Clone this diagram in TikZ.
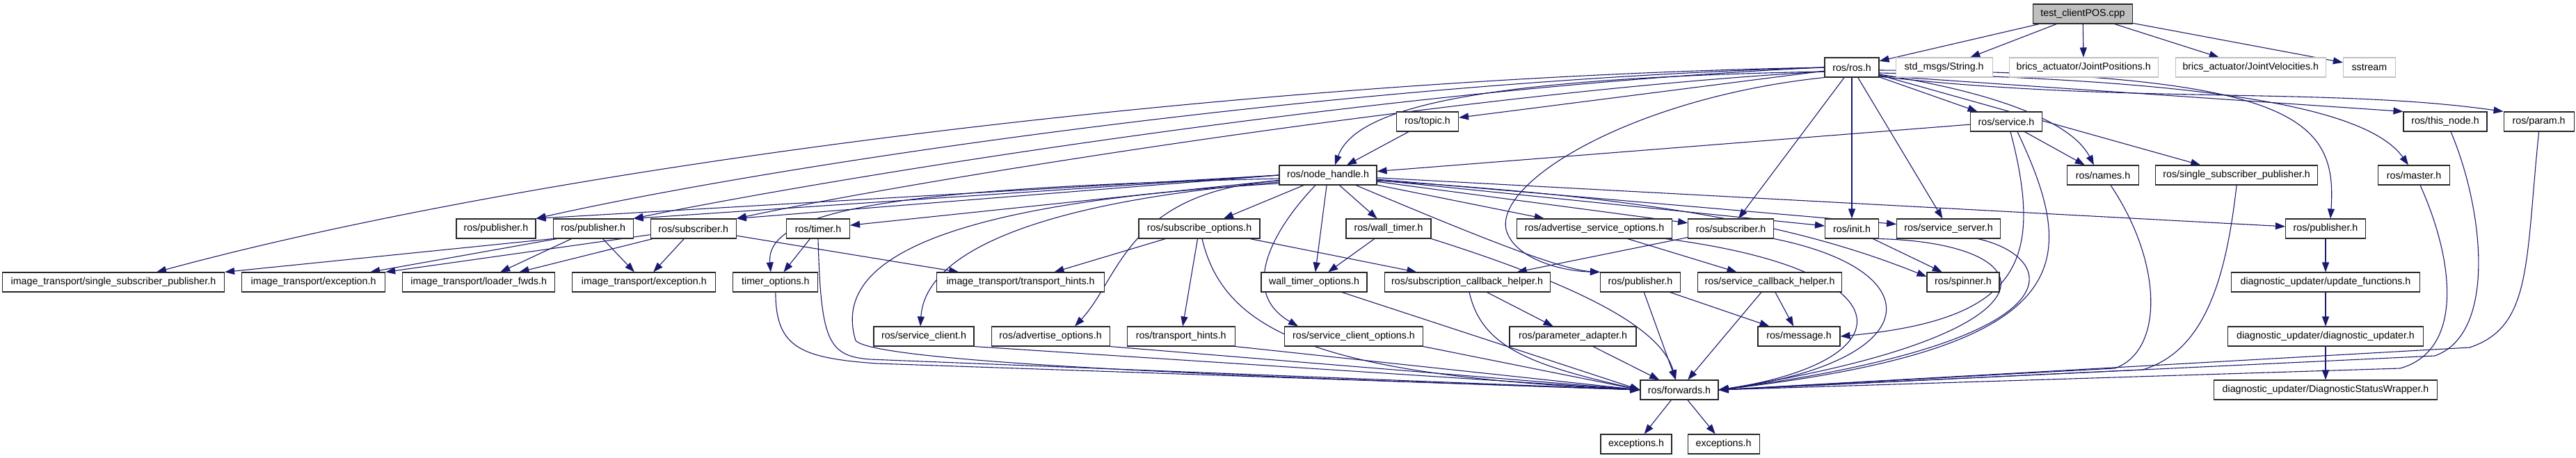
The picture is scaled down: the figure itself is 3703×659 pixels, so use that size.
\documentclass[tikz,border=0pt]{standalone}
\usepackage{fontspec}
\setmainfont{Liberation Sans}
\usepackage{tikz}
\usetikzlibrary{positioning}
\usetikzlibrary{arrows.meta}
\usetikzlibrary{backgrounds}

\definecolor{edgeblue}{HTML}{191970}
\definecolor{boxgray}{HTML}{BFBFBF}

\begin{document}
\begin{tikzpicture}[
    x=1bp, y=-1bp,
    header/.style={rectangle, draw=black!85, fill=white, line width=1.1bp, minimum height=28bp, inner xsep=8bp, inner ysep=0pt, font=\fontsize{14.3}{16}\selectfont},
    extheader/.style={header, draw=boxgray},
    srcfile/.style={header, fill=boxgray},
    incl/.style={draw=edgeblue, line width=1.1bp, -{Triangle[length=14bp,width=10bp]}},
]
    \useasboundingbox (0,0) rectangle (3703,659);

    \node[srcfile, minimum width=143bp] (test) at (2994,20) {test\_clientPOS.cpp};

    \node[header, minimum width=78bp] (ros) at (2662,97) {ros/ros.h};
    \node[extheader, minimum width=139bp] (str) [right=23bp of ros] {std\_msgs/String.h};
    \node[extheader, minimum width=214bp] (jpos) [right=23bp of str] {brics\_actuator/JointPositions.h};
    \node[extheader, minimum width=216bp] (jvel) [right=24bp of jpos] {brics\_actuator/JointVelocities.h};
    \node[extheader, minimum width=75bp] (sst) [right=24bp of jvel] {sstream};

    \node[header, minimum width=89bp] (topic) at (2052,175) {ros/topic.h};
    \node[header, minimum width=103bp] (srv) at (2884,175) {ros/service.h};
    \node[header, minimum width=120bp] (thisnode) at (3515,175) {ros/this\_node.h};
    \node[header, minimum width=101bp] (param) [right=23bp of thisnode] {ros/param.h};

    \node[header, minimum width=140bp] (nh) at (1909,252) {ros/node\_handle.h};
    \node[header, minimum width=103bp] (names) at (3023,252) {ros/names.h};
    \node[header, minimum width=233bp] (ssp) [right=23bp of names] {ros/single\_subscriber\_publisher.h};
    \node[header, minimum width=103bp] (master) at (3470,252) {ros/master.h};

    \node[header, minimum width=114bp] (pubA) at (713,329) {ros/publisher.h};
    \node[header, minimum width=115bp] (pubB) [right=24bp of pubA] {ros/publisher.h};
    \node[header, minimum width=123bp] (subA) [right=24bp of pubB] {ros/subscriber.h};
    \node[header, minimum width=91bp] (timer) at (1176,329) {ros/timer.h};
    \node[header, minimum width=174bp] (subopt) at (1724,329) {ros/subscribe\_options.h};
    \node[header, minimum width=122bp] (wtimer) at (1996,329) {ros/wall\_timer.h};
    \node[header, minimum width=223bp] (advsrv) at (2292,329) {ros/advertise\_service\_options.h};
    \node[header, minimum width=123bp] (subB) [right=22bp of advsrv] {ros/subscriber.h};
    \node[header, minimum width=77bp] (init) at (2662,329) {ros/init.h};
    \node[header, minimum width=149bp] (srvsrv) [right=25bp of init] {ros/service\_server.h};
    \node[header, minimum width=115bp] (pubC) at (3343,329) {ros/publisher.h};

    \node[header, minimum width=319bp] (itssp) at (163,406) {image\_transport/single\_subscriber\_publisher.h};
    \node[header, minimum width=206bp] (itexcA) [right=24bp of itssp] {image\_transport/exception.h};
    \node[header, minimum width=219bp] (itload) [right=24bp of itexcA] {image\_transport/loader\_fwds.h};
    \node[header, minimum width=206bp] (itexcB) [right=24bp of itload] {image\_transport/exception.h};
    \node[header, minimum width=122bp] (topt) [right=24bp of itexcB] {timer\_options.h};
    \node[header, minimum width=241bp] (ithint) at (1467,406) {image\_transport/transport\_hints.h};
    \node[header, minimum width=152bp] (wtopt) at (1889,406) {wall\_timer\_options.h};
    \node[header, minimum width=238bp] (subcb) [right=24bp of wtopt] {ros/subscription\_callback\_helper.h};
    \node[header, minimum width=115bp] (pubD) at (2358,406) {ros/publisher.h};
    \node[header, minimum width=207bp] (srvcb) [right=24bp of pubD] {ros/service\_callback\_helper.h};
    \node[header, minimum width=104bp] (spin) at (2822,406) {ros/spinner.h};
    \node[header, minimum width=271bp] (updf) at (3343,406) {diagnostic\_updater/update\_functions.h};

    \node[header, minimum width=144bp] (srvcl) at (1328,484) {ros/service\_client.h};
    \node[header, minimum width=170bp] (advopt) [right=24bp of srvcl] {ros/advertise\_options.h};
    \node[header, minimum width=155bp] (thint) [right=24bp of advopt] {ros/transport\_hints.h};
    \node[header, minimum width=199bp] (srvclopt) at (1946,484) {ros/service\_client\_options.h};
    \node[header, minimum width=182bp] (padapt) at (2261,484) {ros/parameter\_adapter.h};
    \node[header, minimum width=118bp] (msg) at (2586,484) {ros/message.h};
    \node[header, minimum width=281bp] (diagu) at (3343,484) {diagnostic\_updater/diagnostic\_updater.h};

    \node[header, minimum width=112bp] (fwd) at (2414,561) {ros/forwards.h};
    \node[header, minimum width=321bp] (dsw) at (3343,561) {diagnostic\_updater/DiagnosticStatusWrapper.h};

    \node[header, minimum width=102bp] (excA) at (2352,639) {exceptions.h};
    \node[header, minimum width=103bp] (excB) [right=22bp of excA] {exceptions.h};

    \begin{pgfonlayer}{background}
    \draw[incl] (test) -- (ros);
    \draw[incl] (test) -- (str);
    \draw[incl] (test) -- (jpos);
    \draw[incl] (test) -- (jvel);
    \draw[incl] (test) -- (sst);

    \draw[incl] (ros) -- (topic);
    \draw[incl] ([yshift=-6bp]ros.west) .. controls (2150,112) and (1950,150) .. ([xshift=10bp]nh.north);
    \draw[incl] (ros) -- (srv);
    \draw[incl] ([yshift=-10bp]ros.east) .. controls (2850,130) and (2975,170) .. ([xshift=-13bp]names.north);
    \draw[incl] (ros) -- (init);
    \draw[incl] (ros) -- (srvsrv);
    \draw[incl] (ros) -- (subB);
    \draw[incl] ([yshift=-12bp]ros.east) -- (thisnode.north west);
    \draw[incl] ([yshift=-13bp]ros.east) .. controls (3050,150) and (3350,125) .. (param.north west);
    \draw[incl] ([yshift=-8bp]ros.east) .. controls (3150,115) and (3400,150) .. ([xshift=-8bp]master.north);
    \draw[incl] ([yshift=-4bp]ros.east) .. controls (3300,105) and (3360,170) .. ([xshift=7bp]pubC.north);
    \draw[incl] (ros) -- (ssp);
    \draw[incl] (ros.south west) .. controls (2350,140) and (2150,260) .. (2165,330) .. controls (2175,370) and (2240,390) .. (pubD.north west);
    \draw[incl] (ros.west) .. controls (1800,112) and (800,235) .. ([xshift=62bp]itssp.north);
    \draw[incl] (ros.west) .. controls (1900,118) and (1100,240) .. (pubA.north east);
    \draw[incl] (ros.west) .. controls (2000,125) and (1200,255) .. (pubB.north east);
    \draw[incl] ([yshift=-6bp]ros.west) .. controls (2100,132) and (1300,262) .. (subA.north east);

    \draw[incl] (topic) -- (nh);
    \draw[incl] (srv) -- (nh);
    \draw[incl] (srv) -- (names);
    \draw[incl] ([xshift=6bp]srv.south) .. controls (2940,380) and (2900,460) .. (msg.east);
    \draw[incl] ([xshift=16bp]srv.south) .. controls (2990,380) and (2990,500) .. (fwd.east);

    \draw[incl] (nh.west) -- (pubA.north east);
    \draw[incl] (nh.west) -- (pubB.north east);
    \draw[incl] (nh.west) -- (subA.north east);
    \draw[incl] (nh) -- (timer);
    \draw[incl] ([yshift=-5bp]nh.west) .. controls (1300,270) and (1100,300) .. ([xshift=-7bp]topt.north);
    \draw[incl] (nh) -- (subopt);
    \draw[incl] (nh) -- (wtimer);
    \draw[incl] (nh) -- (wtopt);
    \draw[incl] ([xshift=-18bp]nh.south) .. controls (1830,330) and (1780,420) .. ([xshift=-80bp]srvclopt.north);
    \draw[incl] ([yshift=-8bp]nh.west) .. controls (1620,275) and (1610,400) .. ([xshift=35bp]advopt.north);
    \draw[incl] ([yshift=-10bp]nh.west) .. controls (1500,290) and (1330,360) .. ([xshift=-5bp]srvcl.north);
    \draw[incl] ([yshift=-12bp]nh.west) .. controls (1400,290) and (1190,360) .. (1230,490) .. controls (1260,525) and (1900,545) .. (fwd.west);
    \draw[incl] (nh) -- (advsrv);
    \draw[incl] (nh) -- (subB);
    \draw[incl] (nh) -- (init);
    \draw[incl] (nh) -- (srvsrv);
    \draw[incl] (nh) -- (pubC);
    \draw[incl] ([yshift=-8bp]nh.east) .. controls (2400,285) and (2600,330) .. ([yshift=8bp]spin.west);
    \draw[incl] ([xshift=40bp]nh.south) .. controls (2100,330) and (2240,388) .. (pubD.north west);

    \draw[incl] (pubB.south west) -- (itssp.north east);
    \draw[incl] ([xshift=6bp]pubB.south west) -- ([xshift=-22bp]itexcA.north east);
    \draw[incl] (pubB) -- (itload);
    \draw[incl] (pubB) -- (itexcB);
    \draw[incl] (subA) -- (itexcA);
    \draw[incl] (subA) -- (itload);
    \draw[incl] (subA) -- (itexcB);
    \draw[incl] (subA) -- (ithint);

    \draw[incl] (timer) -- (topt);
    \draw[incl] (timer.south) .. controls (1180,490) and (1190,512) .. (1250,517) -- (fwd.west);
    \draw[incl] (topt.south) .. controls (1115,500) and (1150,515) .. (1260,523) -- (fwd.west);

    \draw[incl] (subopt) -- (ithint);
    \draw[incl] (subopt) -- (thint);
    \draw[incl] ([xshift=4bp]subopt.south) .. controls (1760,480) and (1900,540) .. (fwd.west);
    \draw[incl] (subopt) -- (subcb);

    \draw[incl] (wtimer) -- (wtopt);
    \draw[incl] (wtimer.south east) .. controls (2300,420) and (2390,480) .. ([xshift=-5bp]fwd.north);
    \draw[incl] ([xshift=40bp]wtopt.south) -- (fwd.west);

    \draw[incl] (advsrv) -- (srvcb);
    \draw[incl] ([xshift=-10bp]advsrv.south east) .. controls (2750,390) and (2740,520) .. (fwd.east);
    \draw[incl] (subB) -- (subcb);
    \draw[incl] (subB.south east) .. controls (2780,390) and (2770,520) .. (fwd.east);

    \draw[incl] (init) -- (spin);
    \draw[incl] (init.south east) .. controls (2950,350) and (2980,480) .. (fwd.east);
    \draw[incl] ([xshift=42bp]srvsrv.south) .. controls (2960,370) and (3000,490) .. (fwd.east);

    \draw[incl] (pubC) -- (updf);
    \draw[incl] (updf) -- (diagu);
    \draw[incl] (diagu) -- (dsw);

    \draw[incl] (subcb) -- (padapt);
    \draw[incl] ([xshift=3bp]subcb.south) .. controls (2130,500) and (2200,525) .. (fwd.west);
    \draw[incl] (padapt) -- (fwd);
    \draw[incl] (pubD) -- (msg);
    \draw[incl] (pubD) -- (fwd);
    \draw[incl] (srvcb) -- (msg);
    \draw[incl] (srvcb) -- (fwd);

    \draw[incl] (srvcl.south east) -- (fwd.west);
    \draw[incl] (advopt.south east) -- (fwd.west);
    \draw[incl] (thint.south east) -- (fwd.west);
    \draw[incl] (srvclopt.south east) -- (fwd.west);

    \draw[incl] ([xshift=11bp]names.south) .. controls (3110,380) and (3110,505) .. (3040,530) -- (fwd.east);
    \draw[incl] (ssp.south) .. controls (3200,400) and (3170,505) .. (3080,532) -- (fwd.east);
    \draw[incl] ([xshift=9bp]master.south) .. controls (3530,380) and (3540,505) .. (3450,530) -- (fwd.east);
    \draw[incl] ([xshift=8bp]thisnode.south) .. controls (3570,300) and (3590,480) .. (3500,512) -- (fwd.east);
    \draw[incl] (param.south) .. controls (3630,380) and (3640,470) .. (3550,500) -- (fwd.east);

    \draw[incl] (fwd) -- (excA);
    \draw[incl] (fwd) -- (excB);
    \end{pgfonlayer}
\end{tikzpicture}
\end{document}
